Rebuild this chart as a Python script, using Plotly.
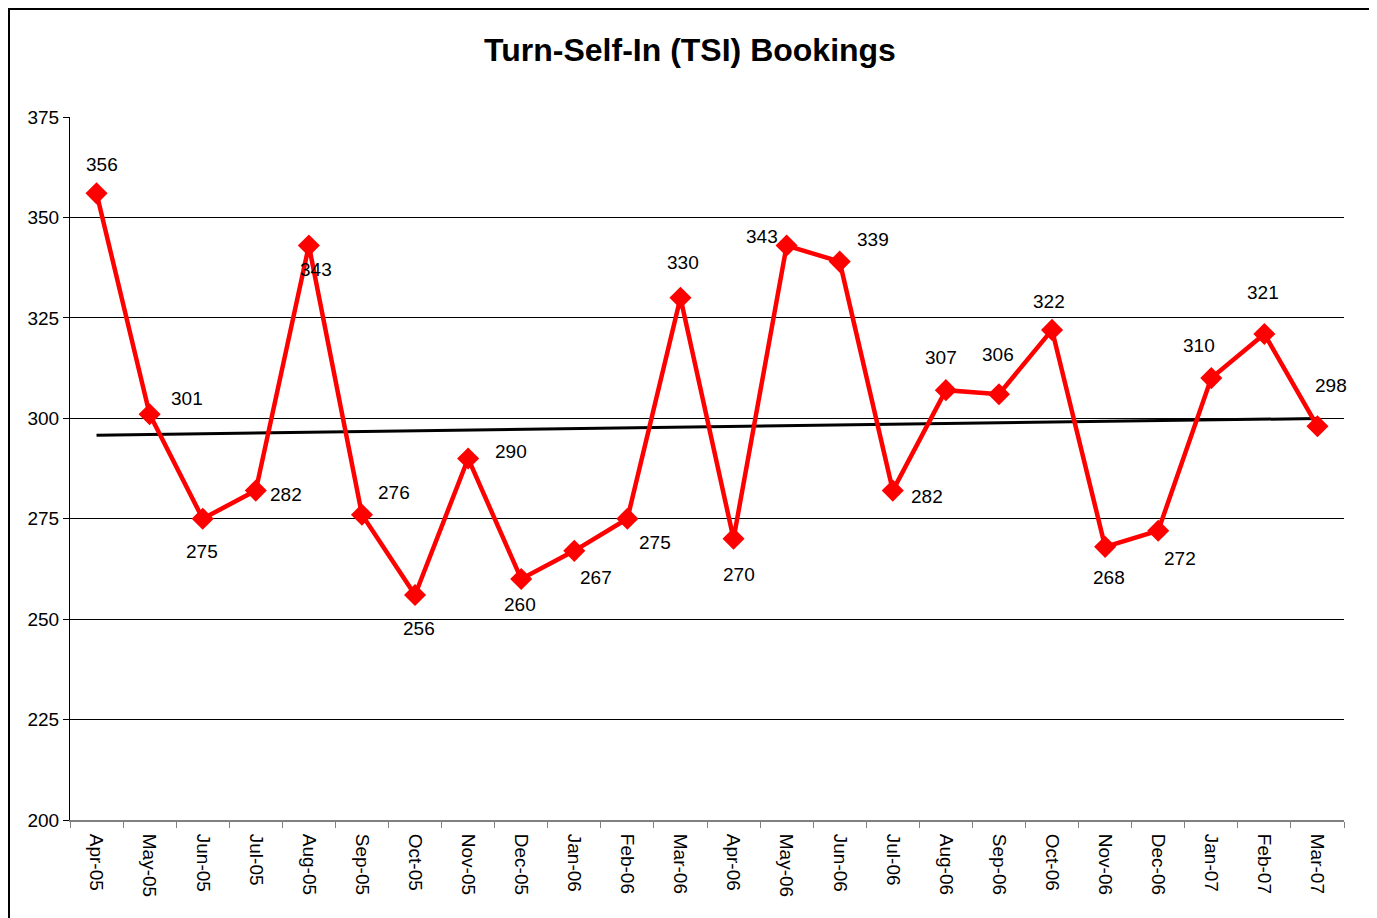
import numpy as np
import plotly.graph_objects as go

months = ["Apr-05", "May-05", "Jun-05", "Jul-05", "Aug-05", "Sep-05", "Oct-05", "Nov-05",
          "Dec-05", "Jan-06", "Feb-06", "Mar-06", "Apr-06", "May-06", "Jun-06", "Jul-06",
          "Aug-06", "Sep-06", "Oct-06", "Nov-06", "Dec-06", "Jan-07", "Feb-07", "Mar-07"]
bookings = [356, 301, 275, 282, 343, 276, 256, 290, 260, 267, 275, 330,
            270, 343, 339, 282, 307, 306, 322, 268, 272, 310, 321, 298]

# label offsets in pixels (dx, dy) - placed by hand like the original
label_offsets = [(5, -29), (37, -16), (-1, 33), (30, 4), (7, 24), (32, -22), (4, 33), (43, -7),
                 (-1, 26), (22, 27), (28, 24), (3, -35), (5, 36), (-25, -9), (33, -22), (34, 6),
                 (-5, -33), (-1, -40), (-3, -28), (4, 31), (22, 28), (-12, -33), (-1, -41), (14, -41)]

# linear trend
idx = np.arange(len(bookings))
slope, intercept = np.polyfit(idx, bookings, 1)
trend = slope * idx + intercept

W, H = 1369, 910
L, R, T, B = 62, 33, 109, 98
PW, PH = W - L - R, H - T - B

fig = go.Figure()

# trend line
fig.add_trace(
    go.Scatter(
        x=months,
        y=trend,
        mode="lines",
        line=dict(color="black", width=3),
        hoverinfo="skip",
    )
)

# bookings
fig.add_trace(
    go.Scatter(
        x=months,
        y=bookings,
        mode="lines+markers",
        line=dict(color="#FF0000", width=4.5),
        marker=dict(symbol="diamond", size=17, color="#FF0000"),
    )
)

for m, v, (dx, dy) in zip(months, bookings, label_offsets):
    fig.add_annotation(
        x=m, y=v, text=str(v), showarrow=False,
        xshift=dx, yshift=-dy,
        font=dict(family="Liberation Sans, Arial", size=19, color="black"),
    )

# chart border (top and left visible)
fig.add_shape(
    type="rect", xref="paper", yref="paper",
    x0=(1 - L) / PW, x1=1.1, y0=-0.3, y1=(T + PH - 1) / PH,
    line=dict(color="black", width=2),
)

fig.update_layout(
    title=dict(
        text="<b>Turn-Self-In (TSI) Bookings</b>",
        x=(682 - L) / PW, xref="paper", xanchor="center",
        y=1 - 42 / H, yanchor="middle",
        font=dict(family="Liberation Sans, Arial", size=32, color="black"),
    ),
    width=W,
    height=H,
    paper_bgcolor="white",
    plot_bgcolor="white",
    showlegend=False,
    font=dict(family="Liberation Sans, Arial", size=19, color="black"),
    margin=dict(l=L, r=R, t=T, b=B),
    xaxis=dict(
        type="category",
        range=[-0.5, len(months) - 0.5],
        tickson="boundaries",
        ticks="outside",
        ticklen=6,
        tickcolor="#808080",
        tickangle=90,
        ticklabelstandoff=8,
        showline=True,
        linecolor="#808080",
        linewidth=2,
        showgrid=False,
        tickfont=dict(size=19),
    ),
    yaxis=dict(
        range=[200, 375],
        dtick=25,
        ticks="outside",
        ticklen=6,
        tickcolor="black",
        showline=True,
        linecolor="black",
        linewidth=1,
        showgrid=True,
        gridcolor="black",
        gridwidth=1,
        zeroline=False,
        tickfont=dict(size=19),
    ),
)

fig.write_html("out.html")
